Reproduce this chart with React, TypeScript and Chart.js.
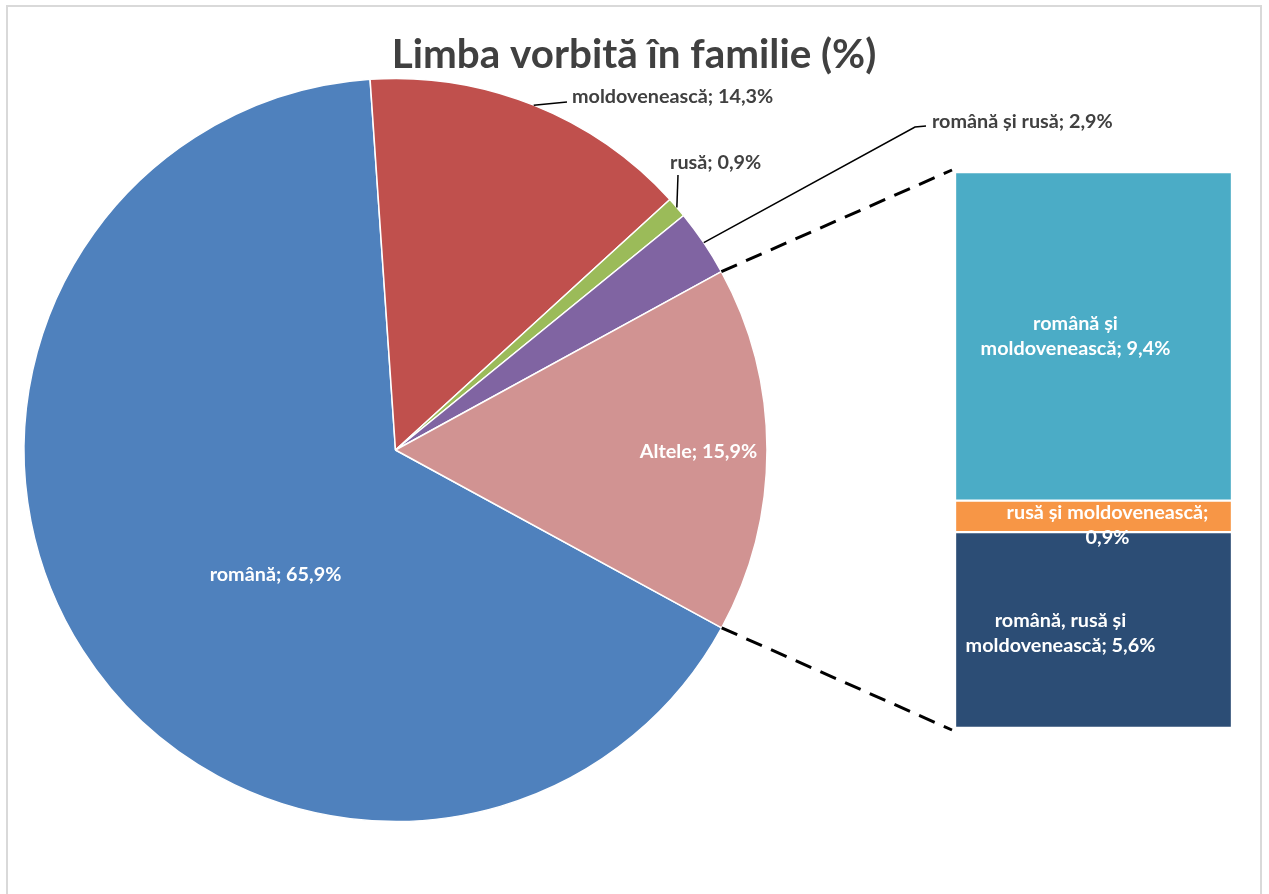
import React, { useEffect, useRef } from "react";
import { Chart, registerables } from "chart.js";

Chart.register(...registerables);

// ---- data ----
const chartTitle = "Limba vorbită în familie (%)";
const pieLabels = ["română", "moldovenească", "rusă", "română și rusă", "Altele"];
const pieValues = [65.9, 14.3, 0.9, 2.9, 15.9];
const pieColors = ["#4F81BD", "#C0504D", "#9BBB59", "#8064A2", "#D19392"];

const barLabels = ["română și moldovenească", "rusă și moldovenească", "română, rusă și moldovenească"];
const barValues = [9.4, 0.9, 5.6];
const barColors = ["#4BACC6", "#F79646", "#2C4D75"];

// label text lines (as shown in the picture)
const pieLabelLines = [["română; 65,9%"], ["moldovenească; 14,3%"], ["rusă; 0,9%"], ["română și rusă; 2,9%"], ["Altele; 15,9%"]];
const barLabelLines = [["română și", "moldovenească; 9,4%"], ["rusă și moldovenească;", "0,9%"], ["română, rusă și", "moldovenească; 5,6%"]];

// ---- layout ----
const FONT = "Lato, 'Open Sans', sans-serif";
const LABEL_FONT = `bold 19.8px ${FONT}`;
const TITLE_FONT = `bold 40.4px ${FONT}`;
const FRAME_LEFT = 6, FRAME_TOP = 5, FRAME_BORDER = 2;
const ORIGIN_X = FRAME_LEFT + FRAME_BORDER;
const ORIGIN_Y = FRAME_TOP + FRAME_BORDER;
const PIE_W = 1252, PIE_H = 890;
const BAR_BOX = { left: 955, top: 172, width: 277, height: 556 }; // page coords

// label placement relative to pie centre
const pieLabelLayout = [
  { dx: -120, dy: 125, align: "center", color: "#FFFFFF", leader: null },
  { dx: 176.5, dy: -353, align: "left", color: "#404040", leader: [[171.5, -348]] },
  { dx: 274.5, dy: -287, align: "left", color: "#404040", leader: [[282.5, -275]] },
  { dx: 536.5, dy: -328, align: "left", color: "#404040", leader: [[519.5, -323], [530.5, -324]] },
  { dx: 303, dy: 2, align: "center", color: "#FFFFFF", leader: null },
];
// bar label offsets relative to segment centre
const barLabelLayout = [
  { dx: -18, dy: -13 },
  { dx: 14, dy: -3.5 },
  { dx: -33, dy: -9 },
];
const LINE_GAP = 25;

export default function App() {
  const pieRef = useRef<HTMLCanvasElement | null>(null);
  const barRef = useRef<HTMLCanvasElement | null>(null);

  useEffect(() => {
    if (!pieRef.current || !barRef.current) return;

    const pieDecor = {
      id: "pieDecor",
      afterDatasetsDraw(chart: any) {
        const ctx = chart.ctx as CanvasRenderingContext2D;
        const arcs = chart.getDatasetMeta(0).data as any[];
        const cx = arcs[0].x, cy = arcs[0].y, r = arcs[0].outerRadius;

        // dashed connectors to the bar
        const alt = arcs[arcs.length - 1];
        const bx = BAR_BOX.left - ORIGIN_X - 3;
        ctx.save();
        ctx.strokeStyle = "#000";
        ctx.lineWidth = 3;
        ctx.setLineDash([17, 10]);
        const ends: [number, number][] = [
          [alt.startAngle, BAR_BOX.top - ORIGIN_Y - 2],
          [alt.endAngle, BAR_BOX.top + BAR_BOX.height - ORIGIN_Y + 2],
        ];
        ends.forEach(([a, y]) => {
          ctx.beginPath();
          ctx.moveTo(cx + r * Math.cos(a), cy + r * Math.sin(a));
          ctx.lineTo(bx, y);
          ctx.stroke();
        });
        ctx.restore();

        // labels
        ctx.save();
        ctx.font = LABEL_FONT;
        ctx.textBaseline = "middle";
        arcs.forEach((arc, i) => {
          const L = pieLabelLayout[i];
          if (L.leader) {
            const mid = (arc.startAngle + arc.endAngle) / 2;
            ctx.beginPath();
            ctx.strokeStyle = "#000";
            ctx.lineWidth = 1.5;
            ctx.moveTo(cx + r * Math.cos(mid), cy + r * Math.sin(mid));
            L.leader.forEach(([px, py]) => ctx.lineTo(cx + px, cy + py));
            ctx.stroke();
          }
          ctx.fillStyle = L.color;
          ctx.textAlign = L.align as CanvasTextAlign;
          pieLabelLines[i].forEach((t, k) => ctx.fillText(t, cx + L.dx, cy + L.dy + k * LINE_GAP));
        });
        ctx.restore();

        // title
        ctx.save();
        ctx.font = TITLE_FONT;
        ctx.fillStyle = "#404040";
        ctx.textAlign = "center";
        ctx.textBaseline = "middle";
        ctx.fillText(chartTitle, chart.width / 2, 48);
        ctx.restore();
      },
    };

    const pie = new Chart(pieRef.current, {
      type: "pie",
      data: {
        labels: pieLabels,
        datasets: [
          {
            data: pieValues,
            backgroundColor: pieColors,
            borderColor: "#FFFFFF",
            borderWidth: 1.5,
            hoverOffset: 0,
            radius: 371.5,
          } as any,
        ],
      },
      options: {
        animation: false,
        responsive: false,
        maintainAspectRatio: false,
        rotation: 118.6,
        layout: { padding: { left: 20, right: 497, top: 72, bottom: 76 } },
        plugins: { legend: { display: false }, tooltip: { enabled: false }, title: { display: false } },
      },
      plugins: [pieDecor],
    });

    const barDecor = {
      id: "barDecor",
      afterDatasetsDraw(chart: any) {
        const ctx = chart.ctx as CanvasRenderingContext2D;
        ctx.save();
        ctx.font = LABEL_FONT;
        ctx.fillStyle = "#FFFFFF";
        ctx.textAlign = "center";
        ctx.textBaseline = "middle";
        barValues.forEach((_, i) => {
          const el = chart.getDatasetMeta(i).data[0] as any;
          const midY = (el.y + el.base) / 2;
          const L = barLabelLayout[i];
          barLabelLines[i].forEach((t, k) => ctx.fillText(t, el.x + L.dx, midY + L.dy + k * LINE_GAP));
        });
        ctx.restore();
      },
    };

    const total = barValues.reduce((a, b) => a + b, 0);
    const bar = new Chart(barRef.current, {
      type: "bar",
      data: {
        labels: [""],
        datasets: barValues.map((v, i) => ({
          label: barLabels[i],
          data: [v],
          backgroundColor: barColors[i],
          borderColor: "#FFFFFF",
          borderWidth: 1.5,
          borderSkipped: false,
          barPercentage: 1,
          categoryPercentage: 1,
        })) as any,
      },
      options: {
        animation: false,
        responsive: false,
        maintainAspectRatio: false,
        layout: { padding: 0 },
        plugins: { legend: { display: false }, tooltip: { enabled: false } },
        scales: {
          x: { display: false, stacked: true },
          y: { display: false, stacked: true, min: 0, max: total, reverse: true },
        },
      },
      plugins: [barDecor],
    });

    return () => {
      pie.destroy();
      bar.destroy();
    };
  }, []);

  return (
    <div
      style={{
        position: "absolute",
        left: FRAME_LEFT,
        top: FRAME_TOP,
        width: PIE_W + 2 * FRAME_BORDER,
        height: 910,
        border: `${FRAME_BORDER}px solid #D9D9D9`,
        boxSizing: "border-box",
        background: "#FFFFFF",
      }}
    >
      <canvas
        ref={pieRef}
        width={PIE_W}
        height={PIE_H}
        style={{ position: "absolute", left: 0, top: 0, width: PIE_W, height: PIE_H }}
      />
      <canvas
        ref={barRef}
        width={BAR_BOX.width}
        height={BAR_BOX.height}
        style={{
          position: "absolute",
          left: BAR_BOX.left - ORIGIN_X,
          top: BAR_BOX.top - ORIGIN_Y,
          width: BAR_BOX.width,
          height: BAR_BOX.height,
        }}
      />
    </div>
  );
}
